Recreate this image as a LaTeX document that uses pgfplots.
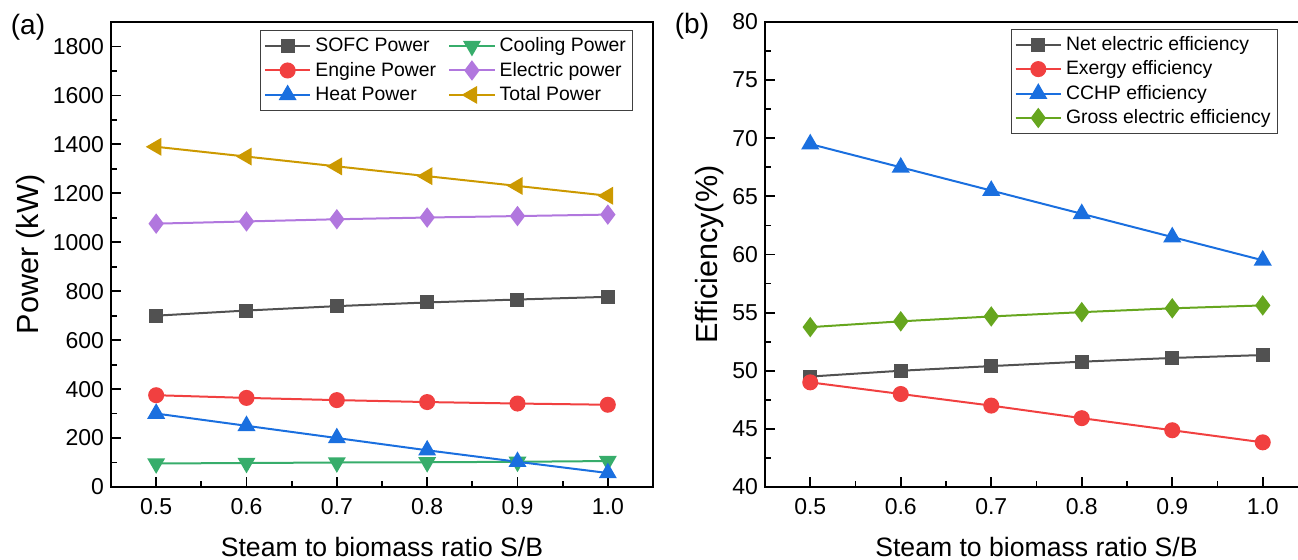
\documentclass[border=0pt]{standalone}
\usepackage{fontspec}
\setmainfont{Liberation Sans}
\usepackage{pgfplots}
\pgfplotsset{compat=1.18}

\definecolor{cgray}{HTML}{515151}
\definecolor{cred}{HTML}{F14040}
\definecolor{cblue}{HTML}{1A6FDF}
\definecolor{cgreen}{HTML}{37AD6B}
\definecolor{cpurple}{HTML}{B177DE}
\definecolor{cgold}{HTML}{CC9900}
\definecolor{colive}{HTML}{66A61E}

\pgfplotsset{
  panel/.style={
    scale only axis,
    height=232.5pt,
    xmin=0.45, xmax=1.05,
    xtick={0.5,0.6,0.7,0.8,0.9,1.0},
    minor x tick num=1,
    tick align=inside,
    xtick pos=bottom, ytick pos=left,
    major tick length=5pt, minor tick length=3pt,
    every tick/.style={black, line width=0.9pt},
    axis line style={line width=1pt},
    /pgf/number format/assume math mode=true,
    tick label style={font=\fontsize{11.5}{13}\selectfont},
    xticklabel style={/pgf/number format/.cd, fixed, fixed zerofill, precision=1, /tikz/.cd, yshift=-2pt},
    yticklabel style={/pgf/number format/1000 sep={}},
    every axis x label/.style={at={(axis description cs:0.5,0)}, anchor=center, yshift=-30pt, font=\fontsize{13.3}{15}\selectfont},
    every axis plot/.append style={line width=1pt},
    legend cell align=left,
    legend image code/.code={\draw[mark repeat=2,mark phase=2] plot coordinates {(0cm,0cm) (0.4cm,0cm) (0.8cm,0cm)};},
    legend style={draw=black!75, line width=0.6pt, font=\fontsize{9.7}{11}\selectfont, inner sep=1.5pt, row sep=-0.3pt,
      /tikz/every even column/.append style={column sep=4pt}},
  },
  sq/.style={mark=square*, mark size=3pt},
  ci/.style={mark=*, mark size=3.5pt},
  tu/.style={mark=triangle*, mark size=4.2pt},
  td/.style={mark=triangle*, mark size=4.2pt, mark options={rotate=180}},
  tl/.style={mark=triangle*, mark size=4.2pt, mark options={rotate=90}},
  di/.style={mark=diamond*, mark size=4.3pt},
}

\begin{document}
\begin{tikzpicture}
% (a) power
\begin{axis}[panel,
  width=271pt,
  ymin=0, ymax=1900,
  ytick={0,200,...,1800},
  minor y tick num=1,
  xlabel={Steam to biomass ratio S/B},
  ylabel={Power (kW)},
  every axis y label/.style={at={(axis description cs:-0.1476,0.5)}, rotate=90, anchor=center, font=\fontsize{15.3}{17}\selectfont},
  legend columns=2,
  legend style={at={(0.964,0.983)}, anchor=north east},
]
\addplot[color=cgray, sq] coordinates {(0.5,700) (0.6,721) (0.7,739) (0.8,754) (0.9,766) (1.0,777)};
\addplot[color=cgreen, td] coordinates {(0.5,96) (0.6,98) (0.7,100) (0.8,101) (0.9,103) (1.0,106)};
\addplot[color=cred, ci] coordinates {(0.5,375) (0.6,364) (0.7,355) (0.8,347) (0.9,341) (1.0,336)};
\addplot[color=cpurple, di] coordinates {(0.5,1076) (0.6,1085) (0.7,1094) (0.8,1101) (0.9,1107) (1.0,1113)};
\addplot[color=cblue, tu] coordinates {(0.5,300) (0.6,250) (0.7,200) (0.8,150) (0.9,103) (1.0,57)};
\addplot[color=cgold, tl] coordinates {(0.5,1390) (0.6,1350) (0.7,1310) (0.8,1270) (0.9,1230) (1.0,1190)};
\legend{SOFC Power, Cooling Power, Engine Power, Electric power, Heat Power, Total Power}
\end{axis}
\node[font=\fontsize{14}{16}\selectfont] at (-41.5pt,230pt) {(a)};

% (b) efficiency
\begin{axis}[panel,
  at={(327pt,0pt)},
  width=271.5pt,
  ymin=40, ymax=80,
  ytick={40,45,...,80},
  minor y tick num=1,
  xlabel={Steam to biomass ratio S/B},
  ylabel={Efficiency(\%)},
  every axis y label/.style={at={(axis description cs:-0.1013,0.5)}, rotate=90, anchor=center, font=\fontsize{15.3}{17}\selectfont},
  legend style={at={(0.945,0.986)}, anchor=north east},
]
\addplot[color=cgray, sq] coordinates {(0.5,49.5) (0.6,50.0) (0.7,50.4) (0.8,50.78) (0.9,51.1) (1.0,51.35)};
\addplot[color=cred, ci] coordinates {(0.5,49.0) (0.6,48.0) (0.7,47.0) (0.8,45.92) (0.9,44.88) (1.0,43.84)};
\addplot[color=cblue, tu] coordinates {(0.5,69.5) (0.6,67.5) (0.7,65.5) (0.8,63.5) (0.9,61.5) (1.0,59.5)};
\addplot[color=colive, di] coordinates {(0.5,53.75) (0.6,54.25) (0.7,54.67) (0.8,55.04) (0.9,55.37) (1.0,55.62)};
\legend{Net electric efficiency, Exergy efficiency, CCHP efficiency, Gross electric efficiency}
\end{axis}
\node[font=\fontsize{14}{16}\selectfont] at (290.5pt,230.5pt) {(b)};

\pgfresetboundingbox
\useasboundingbox (-55.5pt,-36.5pt) rectangle (593.5pt,243.5pt);
\end{tikzpicture}
\end{document}
